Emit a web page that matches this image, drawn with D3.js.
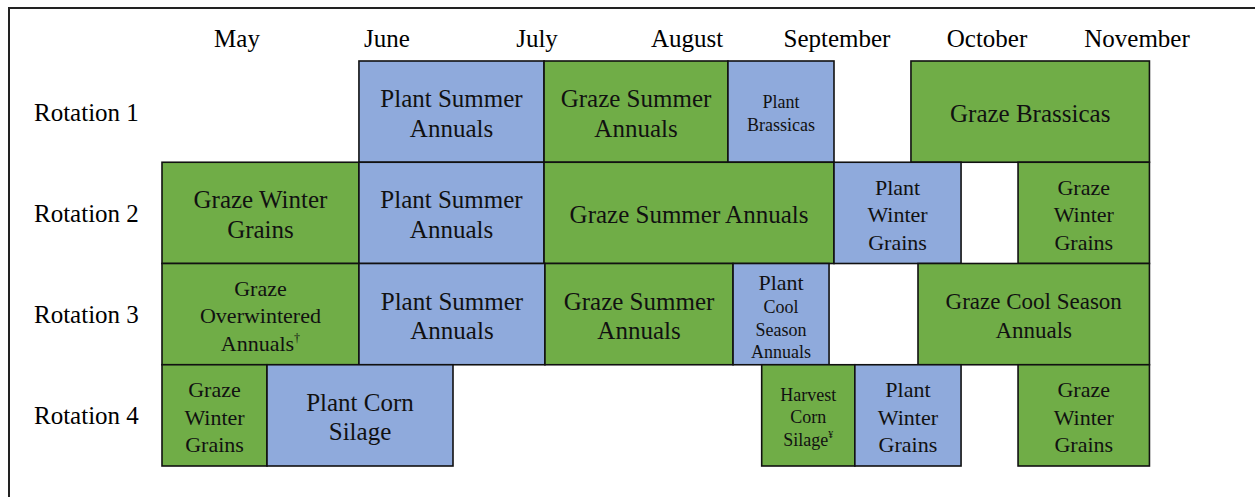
<!DOCTYPE html>
<html>
<head>
<meta charset="utf-8">
<script src="https://cdn.jsdelivr.net/npm/d3@7.9.0/dist/d3.min.js"></script>
<style>
  html, body { margin: 0; padding: 0; background: #fff; }
  svg { display: block; }
  svg text { font-family: 'Liberation Serif', 'Times New Roman', Times, 'DejaVu Serif', serif; }
</style>
</head>
<body>
<svg id="chart" width="1255" height="497"></svg>
<script>
// months are laid out as 0 = 1 May ... 7 = 1 Dec
const months = ['May', 'June', 'July', 'August', 'September', 'October', 'November'];
const rotations = ['Rotation 1', 'Rotation 2', 'Rotation 3', 'Rotation 4'];

// [start, end, kind, label lines] per rotation
const rotation1 = [
  [1.313, 2.547, 'plant', ['Plant Summer', 'Annuals']],
  [2.547, 3.773, 'graze', ['Graze Summer', 'Annuals']],
  [3.773, 4.48, 'plant', ['Plant', 'Brassicas']],
  [4.993, 6.583, 'graze', ['Graze Brassicas']]
];
const rotation2 = [
  [0, 1.313, 'graze', ['Graze Winter', 'Grains']],
  [1.313, 2.547, 'plant', ['Plant Summer', 'Annuals']],
  [2.547, 4.48, 'graze', ['Graze Summer Annuals']],
  [4.48, 5.327, 'plant', ['Plant', 'Winter', 'Grains']],
  [5.707, 6.583, 'graze', ['Graze', 'Winter', 'Grains']]
];
const rotation3 = [
  [0, 1.313, 'graze', ['Graze', 'Overwintered', 'Annuals†']],
  [1.313, 2.553, 'plant', ['Plant Summer', 'Annuals']],
  [2.553, 3.807, 'graze', ['Graze Summer', 'Annuals']],
  [3.807, 4.447, 'plant', ['Plant', 'Cool', 'Season', 'Annuals']],
  [5.04, 6.583, 'graze', ['Graze Cool Season', 'Annuals']]
];
const rotation4 = [
  [0, 0.7, 'graze', ['Graze', 'Winter', 'Grains']],
  [0.7, 1.94, 'plant', ['Plant Corn', 'Silage']],
  [3.998, 4.619, 'graze', ['Harvest', 'Corn', 'Silage¥']],
  [4.619, 5.327, 'plant', ['Plant', 'Winter', 'Grains']],
  [5.707, 6.583, 'graze', ['Graze', 'Winter', 'Grains']]
];

const colors = { graze: '#70AD47', plant: '#8FAADC' };

const svg = d3.select('#chart');

// frame (runs off the right and bottom of the crop)
svg.append('rect')
  .attr('x', 9).attr('y', 8)
  .attr('width', 1400).attr('height', 700)
  .attr('fill', 'none').attr('stroke', '#222').attr('stroke-width', 2);

let x = d3.scaleLinear().domain([0, 7]).range([162, 1212]);
let y = d3.scaleBand().domain(rotations).range([61, 466]).padding(0);

// month headings
svg.append('g').selectAll('text')
  .data(months)
  .join('text')
  .attr('x', (d, i) => x(i + 0.5))
  .attr('y', 47)
  .attr('text-anchor', 'middle')
  .attr('font-size', 25)
  .text(d => d);

// rotation labels
svg.append('g').selectAll('text')
  .data(rotations)
  .join('text')
  .attr('x', 34)
  .attr('y', d => y(d) + y.bandwidth() / 2 + 9)
  .attr('font-size', 25)
  .text(d => d);

let tasks = [];
[rotation1, rotation2, rotation3, rotation4].forEach((r, i) => {
  for (let t of r) {
    tasks.push({ row: rotations[i], start: t[0], end: t[1], kind: t[2], lines: t[3] });
  }
});

// text sizes for the cramped boxes
function lineSizes(d) {
  let key = d.lines.join(' ');
  if (key === 'Plant Brassicas') return [18, 18];
  if (key === 'Plant Cool Season Annuals') return [22, 18, 18, 18];
  if (key === 'Harvest Corn Silage¥') return [18, 18, 18];
  if (key === 'Graze Cool Season Annuals') return [23, 23];
  return d.lines.map(() => (d.lines.length >= 3 ? 22 : 25));
}
function lineHeight(s) {
  return s >= 25 ? 29.5 : s >= 23 ? 29 : s >= 22 ? 27.5 : 22.5;
}

let boxes = svg.append('g').selectAll('g')
  .data(tasks)
  .join('g');

boxes.append('rect')
  .attr('x', d => x(d.start))
  .attr('y', d => y(d.row))
  .attr('width', d => x(d.end) - x(d.start))
  .attr('height', y.bandwidth())
  .attr('fill', d => colors[d.kind])
  .attr('stroke', '#111')
  .attr('stroke-width', 1.6);

boxes.each(function (d) {
  let g = d3.select(this);
  let sizes = lineSizes(d);
  let lhs = sizes.map(lineHeight);
  let total = d3.sum(lhs);
  let cx = (x(d.start) + x(d.end)) / 2;
  let top = y(d.row) + y.bandwidth() / 2 - total / 2;
  let acc = 0;
  d.lines.forEach((line, i) => {
    let base = top + acc + lhs[i] / 2 + 0.37 * sizes[i] + 1;
    acc += lhs[i];
    let t = g.append('text')
      .attr('x', cx)
      .attr('y', base)
      .attr('text-anchor', 'middle')
      .attr('font-size', sizes[i])
      .attr('fill', '#111');
    let m = line.match(/^(.*?)([†¥])$/);
    if (m) {
      t.append('tspan').text(m[1]);
      t.append('tspan')
        .attr('font-size', sizes[i] * 0.55)
        .attr('dy', -sizes[i] * 0.4)
        .text(m[2]);
    } else {
      t.text(line);
    }
  });
});
</script>
</body>
</html>
